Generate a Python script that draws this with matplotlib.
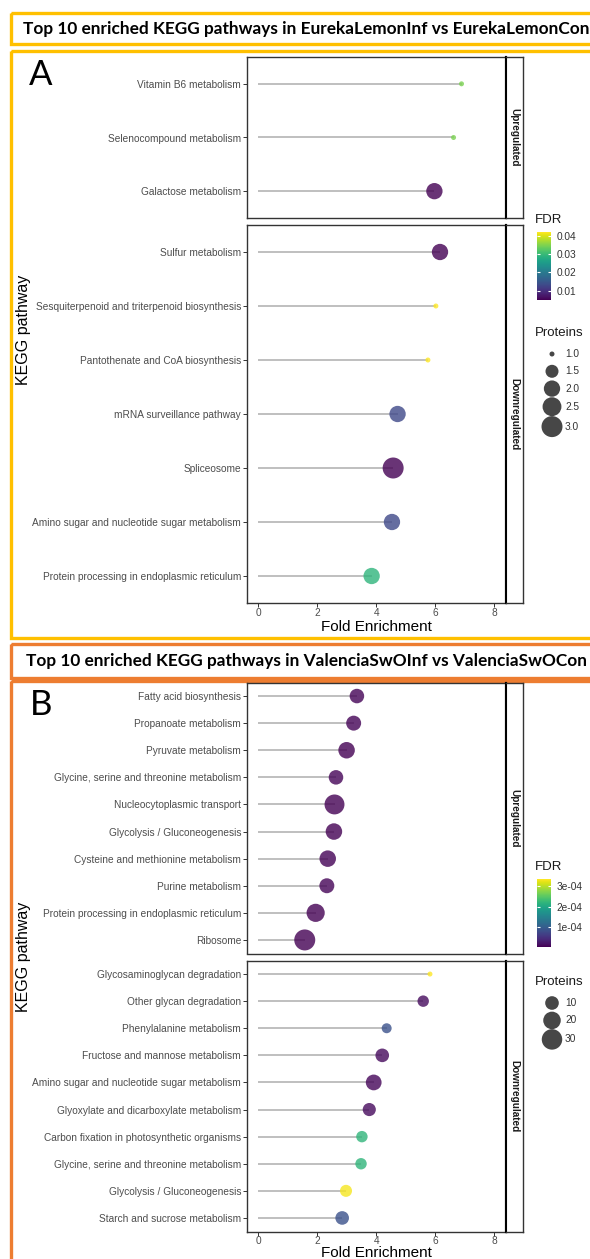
import numpy as np
import matplotlib.pyplot as plt
from matplotlib import cm, colors
from matplotlib.patches import Rectangle

# ---------------- data, panel A (EurekaLemonInf vs EurekaLemonCon) ----------------
a_up_pathways = ["Vitamin B6 metabolism", "Selenocompound metabolism", "Galactose metabolism"]
a_up_fold = [6.89, 6.62, 5.97]
a_up_fdr = [0.0345, 0.0345, 0.005]
a_up_proteins = [1, 1, 2]

a_down_pathways = ["Sulfur metabolism", "Sesquiterpenoid and triterpenoid biosynthesis",
                   "Pantothenate and CoA biosynthesis", "mRNA surveillance pathway", "Spliceosome",
                   "Amino sugar and nucleotide sugar metabolism",
                   "Protein processing in endoplasmic reticulum"]
a_down_fold = [6.16, 6.02, 5.75, 4.72, 4.57, 4.53, 3.84]
a_down_fdr = [0.005, 0.042, 0.042, 0.013, 0.005, 0.013, 0.029]
a_down_proteins = [2, 1, 1, 2, 3, 2, 2]

a_fdr_ticks = [0.01, 0.02, 0.03, 0.04]
a_fdr_ticklabels = ["0.01", "0.02", "0.03", "0.04"]
a_prot_breaks = [1.0, 1.5, 2.0, 2.5, 3.0]
a_prot_labels = ["1.0", "1.5", "2.0", "2.5", "3.0"]

# ---------------- data, panel B (ValenciaSwOInf vs ValenciaSwOCon) ----------------
b_up_pathways = ["Fatty acid biosynthesis", "Propanoate metabolism", "Pyruvate metabolism",
                 "Glycine, serine and threonine metabolism", "Nucleocytoplasmic transport",
                 "Glycolysis / Gluconeogenesis", "Cysteine and methionine metabolism",
                 "Purine metabolism", "Protein processing in endoplasmic reticulum", "Ribosome"]
b_up_fold = [3.34, 3.23, 2.99, 2.63, 2.58, 2.56, 2.35, 2.32, 1.94, 1.57]
b_up_fdr = [4e-6, 4e-6, 3e-6, 5e-6, 2e-6, 3e-6, 4e-6, 5e-6, 3e-6, 2e-6]
b_up_proteins = [12, 13, 17, 12, 28, 17, 17, 13, 22, 32]

b_down_pathways = ["Glycosaminoglycan degradation", "Other glycan degradation",
                   "Phenylalanine metabolism", "Fructose and mannose metabolism",
                   "Amino sugar and nucleotide sugar metabolism",
                   "Glyoxylate and dicarboxylate metabolism",
                   "Carbon fixation in photosynthetic organisms",
                   "Glycine, serine and threonine metabolism", "Glycolysis / Gluconeogenesis",
                   "Starch and sucrose metabolism"]
b_down_fold = [5.82, 5.59, 4.35, 4.20, 3.91, 3.76, 3.51, 3.48, 2.97, 2.84]
b_down_fdr = [3.35e-4, 1.2e-5, 8.5e-5, 1.0e-5, 6e-6, 1.1e-5, 2.2e-4, 2.2e-4, 3.3e-4, 8.5e-5]
b_down_proteins = [1, 6, 4, 10, 15, 9, 6, 6, 7, 10]

b_fdr_ticks = [1e-4, 2e-4, 3e-4]
b_fdr_ticklabels = ["1e-04", "2e-04", "3e-04"]
b_prot_breaks = [10, 20, 30]
b_prot_labels = ["10", "20", "30"]

title_a = "Top 10 enriched KEGG pathways in EurekaLemonInf vs EurekaLemonCon"
title_b = "Top 10 enriched KEGG pathways in ValenciaSwOInf vs ValenciaSwOCon"

# ---------------- figure setup ----------------
W, H, DPI = 590, 1259, 100
plt.rcParams['font.family'] = ['Liberation Sans', 'DejaVu Sans']
fig = plt.figure(figsize=(W / DPI, H / DPI), dpi=DPI)

GOLD = '#FFC000'
ORANGE = '#ED7D31'
SEG = '#adadad'
TXT = '#4d4d4d'
FS_TICK = 7.3


def px_axes(x0, y0, x1, y1):
    return fig.add_axes([x0 / W, 1 - y1 / H, (x1 - x0) / W, (y1 - y0) / H])


def point_diam(p, pmin, pmax):
    size = 1 + 5 * np.sqrt((np.asarray(p, float) - pmin) / (pmax - pmin))
    return 3.2 * size + 1.8


def area(d):
    return (np.asarray(d) * 72 / DPI) ** 2


bg = fig.add_axes([0, 0, 1, 1])
bg.set_xlim(0, W)
bg.set_ylim(H, 0)
bg.axis('off')
bg.set_zorder(-1)


def facet(box, labels, fold, fdr, prot, norm, prange, strip_label, bottom):
    x0, y0, x1, y1 = box
    ax = px_axes(x0, y0, x1, y1)
    n = len(labels)
    y = np.arange(n)
    ax.hlines(y, 0, fold, color=SEG, lw=1.1, zorder=1)
    ax.scatter(fold, y, s=area(point_diam(prot, *prange)), c=fdr, cmap='viridis', norm=norm,
               alpha=0.8, edgecolors='none', zorder=2)
    ax.set_xlim(-0.4, 8.4)
    ax.set_ylim(n - 0.5, -0.5)
    ax.set_yticks(y, labels)
    ax.tick_params(axis='y', length=2.6, width=0.7, color='#333333', pad=1.5,
                   labelsize=FS_TICK, labelcolor=TXT)
    if bottom:
        ax.set_xticks([0, 2, 4, 6, 8])
        ax.tick_params(axis='x', length=2.6, width=0.7, color='#333333', pad=1.0,
                       labelsize=FS_TICK, labelcolor=TXT)
    else:
        ax.set_xticks([])
    for sp in ax.spines.values():
        sp.set_color('#333333')
        sp.set_linewidth(1.0)
    ax.spines['right'].set_color('black')
    ax.spines['right'].set_linewidth(1.5)
    sx = px_axes(x1, y0, x1 + 17, y1)
    sx.set_xticks([])
    sx.set_yticks([])
    for sp in sx.spines.values():
        sp.set_color('#333333')
        sp.set_linewidth(1.0)
    sx.spines['left'].set_color('black')
    sx.spines['left'].set_linewidth(1.5)
    sx.text(0.5, 0.5, strip_label, rotation=-90, ha='center', va='center', fontsize=7.2,
            fontweight='bold', color='#1a1a1a', transform=sx.transAxes)
    return ax


def legends(y_fdr, norm, ticks, ticklabels, y_prot, breaks, blabels, prange):
    bg.text(535, y_fdr, 'FDR', ha='left', va='center', fontsize=9.5, color='#1a1a1a')
    cax = px_axes(537, y_fdr + 12, 551, y_fdr + 80)
    cb = fig.colorbar(cm.ScalarMappable(norm=norm, cmap='viridis'), cax=cax, ticks=ticks)
    cb.outline.set_visible(False)
    cb.set_ticklabels(ticklabels)
    cax.tick_params(axis='y', which='both', left=True, right=True, direction='in', length=2.5,
                    width=0.8, color='white', labelleft=False, labelright=True,
                    labelsize=FS_TICK, labelcolor='#333333', pad=4)
    bg.text(535, y_prot, 'Proteins', ha='left', va='center', fontsize=9.5, color='#1a1a1a')
    d = point_diam(breaks, *prange)
    ys = [y_prot + 21]
    for i in range(1, len(breaks)):
        ys.append(ys[-1] + max(17.3, d[i - 1]) / 2 + max(17.3, d[i]) / 2)
    bg.scatter([552] * len(breaks), ys, s=area(d), color='black', alpha=0.72, edgecolors='none')
    for yy, lab in zip(ys, blabels):
        bg.text(565, yy, lab, ha='left', va='center', fontsize=FS_TICK, color='#333333')


# ---------------- frames and titles ----------------
bg.add_patch(Rectangle((11, 13), 640, 31, fill=False, ec=GOLD, lw=2.4))
bg.add_patch(Rectangle((11, 51), 640, 587, fill=False, ec=GOLD, lw=2.4))
bg.add_patch(Rectangle((11, 644), 640, 34, fill=False, ec=ORANGE, lw=2.4))
bg.add_patch(Rectangle((11, 681), 640, 620, fill=False, ec=ORANGE, lw=2.4))
bg.text(306, 29, title_a, ha='center', va='center', fontsize=12.4, fontweight='bold',
        family='Lato', color='black')
bg.text(306, 661, title_b, ha='center', va='center', fontsize=12.4, fontweight='bold',
        family='Lato', color='black')
bg.text(41, 75, 'A', ha='center', va='center', fontsize=25, family='Lato')
bg.text(41, 705, 'B', ha='center', va='center', fontsize=25, family='Lato')

# ---------------- panel A ----------------
norm_a = colors.Normalize(0.005, 0.042)
pr_a = (1, 3)
facet((246.7, 57, 506, 218), a_up_pathways, a_up_fold, a_up_fdr, a_up_proteins,
      norm_a, pr_a, 'Upregulated', False)
facet((246.7, 225, 506, 603), a_down_pathways, a_down_fold, a_down_fdr, a_down_proteins,
      norm_a, pr_a, 'Downregulated', True)
bg.text(376, 627, 'Fold Enrichment', ha='center', va='center', fontsize=11, color='black')
bg.text(24, 330, 'KEGG pathway', ha='center', va='center', rotation=90, fontsize=11.5, color='black')
legends(220, norm_a, a_fdr_ticks, a_fdr_ticklabels, 333, a_prot_breaks, a_prot_labels, pr_a)

# ---------------- panel B ----------------
norm_b = colors.Normalize(2e-6, 3.35e-4)
pr_b = (1, 32)
facet((246.7, 682.5, 506, 953.5), b_up_pathways, b_up_fold, b_up_fdr, b_up_proteins,
      norm_b, pr_b, 'Upregulated', False)
facet((246.7, 960.5, 506, 1231.5), b_down_pathways, b_down_fold, b_down_fdr, b_down_proteins,
      norm_b, pr_b, 'Downregulated', True)
bg.text(376, 1253, 'Fold Enrichment', ha='center', va='center', fontsize=11, color='black')
bg.text(24, 957, 'KEGG pathway', ha='center', va='center', rotation=90, fontsize=11.5, color='black')
legends(867, norm_b, b_fdr_ticks, b_fdr_ticklabels, 982, b_prot_breaks, b_prot_labels, pr_b)

fig.savefig('out.png', dpi=DPI)
